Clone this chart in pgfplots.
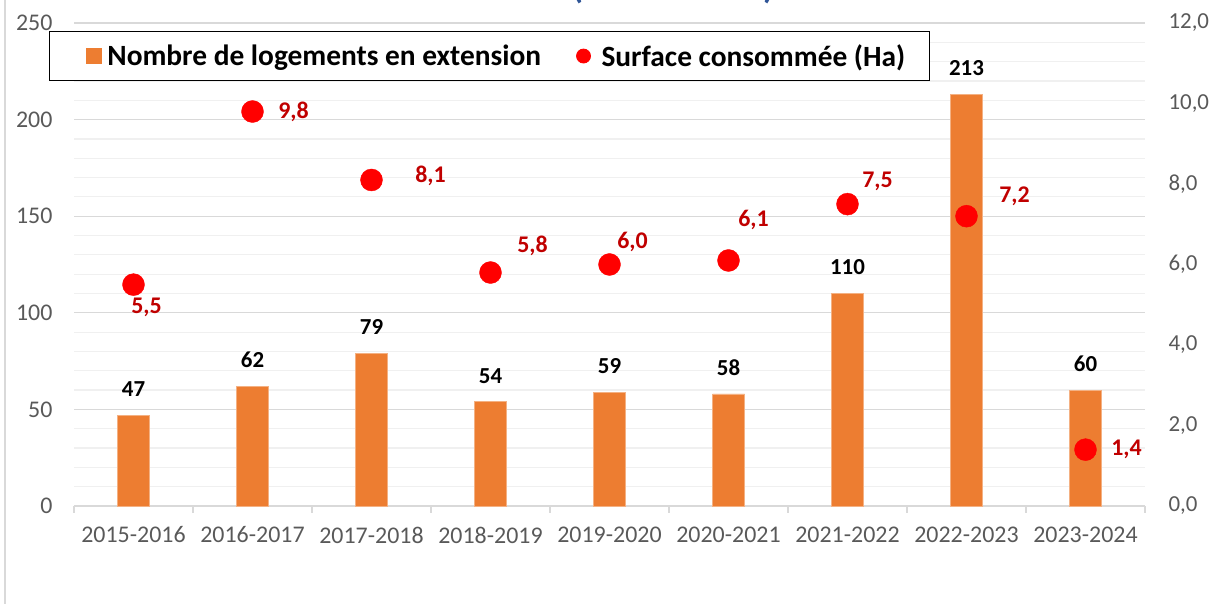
\documentclass[border=0pt]{standalone}
\usepackage{pgfplots}
\usepackage{pgfplotstable}
\pgfplotsset{compat=1.18}
\usepackage{fontspec}
\setmainfont{Carlito}
\definecolor{barC}{HTML}{ED7D31}
\definecolor{barE}{HTML}{F4B183}
\definecolor{ptC}{HTML}{FF0000}
\definecolor{lblR}{HTML}{C00000}
\definecolor{tickC}{HTML}{595959}
\definecolor{gridMaj}{HTML}{D9D9D9}
\definecolor{gridMin}{HTML}{F0F0F0}
\definecolor{titleC}{HTML}{2F5597}
\pgfplotsset{/pgf/number format/assume math mode=true}

\pgfplotstableread{
x y
0 47
1 62
2 79
3 54
4 59
5 58
6 110
7 213
8 60
}\bars

\pgfplotstableread{
x y dx dy
0 5.5 13 -23
1 9.8 41 0
2 8.1 59 4
3 5.8 42 27
4 6.0 23 23
5 6.1 25 41
6 7.5 30 23
7 7.2 48 20
8 1.4 41 0
}\pts

\begin{document}
\begin{tikzpicture}
\useasboundingbox (0bp,0bp) rectangle (1213bp,604bp);
\draw[gridMaj, line width=1.5bp] (5bp,0bp) -- (5bp,604bp);
\node[text=titleC, font=\bfseries\fontsize{36}{40}\selectfont, anchor=base, inner sep=0pt] at (673bp,605bp) {(\hspace{180bp})};

\begin{axis}[
  at={(74bp,98bp)}, anchor=south west,
  width=1071bp, height=483bp, scale only axis,
  clip=false,
  xmin=-0.5, xmax=8.5, ymin=0, ymax=250,
  axis x line*=bottom, axis y line*=left,
  y axis line style={draw=none},
  x axis line style={gridMaj, line width=1.5bp, -},
  xtick={0,...,8},
  xticklabels={2015-2016,2016-2017,2017-2018,2018-2019,2019-2020,2020-2021,2021-2022,2022-2023,2023-2024},
  major x tick style={draw=none},
  minor xtick={-0.5,0.5,...,8.5},
  minor x tick style={gridMaj, line width=1.5bp},
  minor tick length=7bp,
  xtick align=outside,
  ytick={0,50,...,250},
  minor ytick={10,20,...,240},
  ytick style={draw=none},
  ymajorgrids, yminorgrids,
  major grid style={gridMaj, line width=1.2bp},
  minor grid style={gridMin, line width=1.2bp},
  tick label style={text=tickC, font=\fontsize{24}{28}\selectfont},
  yticklabel style={xshift=-18bp},
  xticklabel style={yshift=-13bp},
  ybar, bar width=32bp,
  legend columns=2,
  legend style={at={(rel axis cs:-0.02334,0.98344)}, anchor=north west,
    draw=black, line width=0.8bp, fill=white,
    font=\bfseries\fontsize{29.5}{34}\selectfont,
    inner xsep=22bp, inner ysep=11bp,
    /tikz/every even column/.append style={column sep=33bp}},
  legend cell align=left,
]
\addplot[fill=barC, draw=barE, line width=0.8bp,
  nodes near coords,
  every node near coord/.append style={font=\bfseries\fontsize{23}{26}\selectfont, text=black, anchor=center, yshift=26bp},
  legend image code/.code={\path[draw=none,fill=none] (0bp,0bp) rectangle (34bp,0.1bp); \fill[barC] (15bp,-7.5bp) rectangle (30bp,7.5bp);}
] table[x=x,y=y] {\bars};
\addlegendentry{Nombre de logements en extension}
\addlegendimage{legend image code/.code={\path[draw=none,fill=none] (0bp,0bp) rectangle (23bp,0.1bp); \fill[ptC] (7bp,0bp) circle (7bp);}}
\addlegendentry{Surface consommée (Ha)}
\end{axis}

\begin{axis}[
  at={(74bp,98bp)}, anchor=south west,
  width=1071bp, height=483bp, scale only axis,
  clip=false,
  xmin=-0.5, xmax=8.5, ymin=0, ymax=12,
  axis x line=none, axis y line*=right,
  y axis line style={draw=none},
  ytick={0,2,...,12},
  ytick style={draw=none},
  yticklabel style={text=tickC, font=\fontsize{23}{28}\selectfont, xshift=20bp,
    /pgf/number format/.cd, fixed, fixed zerofill, precision=1, use comma},
]
\addplot[only marks, mark=*, mark size=11bp, color=ptC,
  visualization depends on={\thisrow{dx} \as \dx},
  visualization depends on={\thisrow{dy} \as \dy},
  nodes near coords={\pgfmathprintnumber[fixed,fixed zerofill,precision=1,use comma]{\pgfplotspointmeta}},
  every node near coord/.append style={font=\bfseries\fontsize{24}{28}\selectfont, text=lblR, anchor=center, xshift=\dx bp, yshift=\dy bp},
] table[x=x,y=y] {\pts};
\end{axis}
\end{tikzpicture}
\end{document}
